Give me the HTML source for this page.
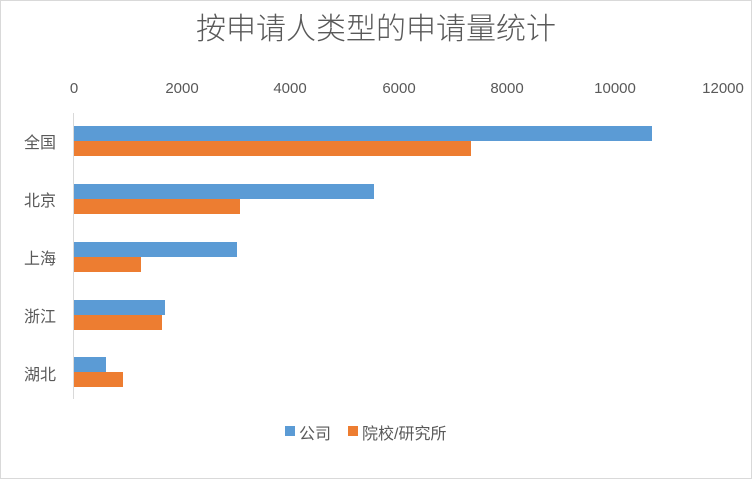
<!DOCTYPE html>
<html><head><meta charset="utf-8"><style>
body{margin:0;background:#fff;}
.c{position:relative;width:750px;height:477px;border:1px solid #d9d9d9;overflow:hidden;font-family:"Liberation Sans","Noto Sans CJK SC",sans-serif;color:#595959;}
.t{position:absolute;left:0;width:750px;top:3px;text-align:center;font-size:30px;font-weight:300;}
.x{position:absolute;top:79px;font-size:15px;transform:translateX(-50%);}
.y{position:absolute;left:23px;font-size:16px;}
.b{position:absolute;left:73px;height:15px;}
.bl{background:#5b9bd5}.or{background:#ed7d31}
.ax{position:absolute;left:72px;top:112px;width:1px;height:286px;background:#d9d9d9;}
.lg{position:absolute;top:419px;font-size:16px;}
.sq{position:absolute;top:425px;width:10px;height:10px;}
</style></head><body><div class="c">
<div class="t">按申请人类型的申请量统计</div>
<div class="x" style="left:73px">0</div>
<div class="x" style="left:181px">2000</div>
<div class="x" style="left:289px">4000</div>
<div class="x" style="left:398px">6000</div>
<div class="x" style="left:506px">8000</div>
<div class="x" style="left:614px">10000</div>
<div class="x" style="left:722px">12000</div>
<div class="ax"></div>
<div class="y" style="top:128px">全国</div>
<div class="y" style="top:186px">北京</div>
<div class="y" style="top:244px">上海</div>
<div class="y" style="top:302px">浙江</div>
<div class="y" style="top:360px">湖北</div>
<div class="b bl" style="top:125px;width:578px"></div>
<div class="b or" style="top:140px;width:397px"></div>
<div class="b bl" style="top:183px;width:300px"></div>
<div class="b or" style="top:198px;width:166px"></div>
<div class="b bl" style="top:241px;width:163px"></div>
<div class="b or" style="top:256px;width:67px"></div>
<div class="b bl" style="top:299px;width:91px"></div>
<div class="b or" style="top:314px;width:88px"></div>
<div class="b bl" style="top:356px;width:32px"></div>
<div class="b or" style="top:371px;width:49px"></div>
<div class="sq bl" style="left:284px"></div>
<div class="lg" style="left:298px">公司</div>
<div class="sq or" style="left:347px"></div>
<div class="lg" style="left:361px">院校/研究所</div>
</div></body></html>
